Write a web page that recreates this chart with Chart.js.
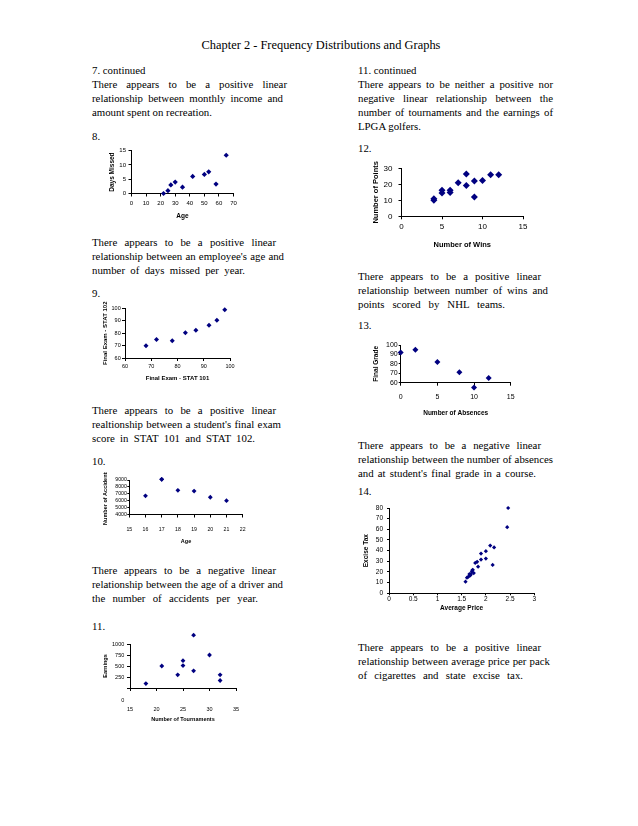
<!DOCTYPE html>
<html>
<head>
<meta charset="utf-8">
<script src="https://cdn.jsdelivr.net/npm/chart.js@4"></script>
<style>
  body { margin: 0; width: 638px; height: 826px; position: relative; overflow: hidden; background: #fff;
         font-family: "Liberation Serif", "Times New Roman", serif; font-size: 10.8px; color: #000; }
  .t { position: absolute; line-height: 14px; white-space: nowrap; }
  .j { text-align: justify; text-align-last: justify; }
  canvas { position: absolute; }
</style>
</head>
<body>
<script>
// 8. employee age vs days missed
const empAge = [22, 25, 27, 30, 35, 42, 50, 53, 58, 65];
const daysMissed = [0, 1, 3, 4, 2.2, 6, 6.7, 7.6, 3.3, 13.4];
// 9. STAT 101 vs STAT 102
const stat101 = [68, 72, 78, 83, 87, 92, 95, 98];
const stat102 = [70, 75, 74, 80.5, 82.5, 86.5, 90.5, 99];
// 10. driver age vs accidents
const driverAge = [16, 17, 18, 19, 20, 21];
const accidents = [6700, 9100, 7500, 7400, 6500, 6000];
// 11. LPGA tournaments vs earnings
const tournaments = [18, 21, 24, 25, 25, 27, 27, 30, 32, 32];
const earnings = [100, 500, 300, 620, 510, 1200, 390, 750, 300, 170];
// 12. NHL wins vs points
const wins = [4, 4, 5, 5, 6, 6, 7, 8, 8, 9, 9, 10, 11, 12];
const points = [10, 11, 14.6, 16.3, 14.8, 16.3, 21, 26.5, 19.2, 22, 12, 22.3, 26, 26];
// 13. absences vs final grade
const absences = [0, 2, 5, 8, 10, 12];
const finalGrade = [92, 95, 82, 71, 55, 65];
// 14. cigarette price vs excise tax
const avgPrice = [2.46, 2.44, 2.09, 2.17, 2.0, 1.9, 2.0, 1.9, 2.14, 1.84, 1.82, 1.78,
                  1.72, 1.75, 1.69, 1.67, 1.64, 1.61, 1.58, 1.71, 1.66, 1.68, 1.73];
const exciseTax = [80, 62, 44.8, 43, 39.5, 37.3, 32.6, 31.6, 26.6, 25, 29.5, 28.5,
                   21.6, 19, 17.9, 16.6, 15.6, 14.7, 10.9, 20.3, 18, 17, 22];

// TEXT  [x, y centre, text, right edge to stretch to]
const lines = [
  [92, 70, '7. continued'],
  [92, 84, 'There appears to be a positive linear', 287],
  [92, 98, 'relationship between monthly income and', 283],
  [92, 112, 'amount spent on recreation.', 208],
  [92, 136, '8.'],
  [92, 242, 'There appears to be a positive linear', 276],
  [92, 256, "relationship between an employee's age and", 284],
  [92, 270, 'number of days missed per year.', 245],
  [92, 293, '9.'],
  [92, 410, 'There appears to be a positive linear', 276],
  [92, 424, "realtionship between a student's final exam", 281],
  [92, 438, 'score in STAT 101 and STAT 102.', 255],
  [92, 461, '10.'],
  [92, 570, 'There appears to be a negative linear', 276],
  [92, 584, 'relationship between the age of a driver and', 283],
  [92, 598, 'the number of accidents per year.', 258],
  [92, 626, '11.'],
  [358, 70, '11. continued'],
  [358, 84, 'There appears to be neither a positive nor', 553],
  [358, 98, 'negative linear relationship between the', 553],
  [358, 112, 'number of tournaments and the earnings of', 553],
  [358, 126, 'LPGA golfers.'],
  [358, 148, '12.'],
  [358, 276, 'There appears to be a positive linear', 541],
  [358, 290, 'relationship between number of wins and', 548],
  [358, 304, 'points scored by NHL teams.', 505],
  [358, 325, '13.'],
  [358, 445, 'There appears to be a negative linear', 541],
  [358, 459, 'relationship between the number of absences', 553],
  [358, 473, "and at student's final grade in a course.", 536],
  [358, 491, '14.'],
  [358, 647, 'There appears to be a positive linear', 541],
  [358, 661, 'relationship between average price per pack', 550],
  [358, 675, 'of cigarettes and state excise tax.', 523]
];
const title = document.createElement('div');
title.className = 't';
title.style.cssText = 'left:0;width:638px;text-align:center;top:38px;font-size:12.4px;padding-left:2px';
title.textContent = 'Chapter 2 - Frequency Distributions and Graphs';
document.body.appendChild(title);

lines.forEach(([x, y, txt, right]) => {
  const d = document.createElement('div');
  d.className = 't';
  d.style.left = x + 'px';
  d.style.top = (y - 7) + 'px';
  d.textContent = txt;
  document.body.appendChild(d);
  if (right && d.offsetWidth < right - x) {
    d.style.width = (right - x) + 'px';
    d.classList.add('j');
  }
});

// CHARTS
const SANS = '"Liberation Sans", Arial, sans-serif';
const NAVY = '#000080';
const BIG = { left: -1e4, top: -1e4, right: 1e4, bottom: 1e4 };

// points past the axis ends are still shown in the reference
const drawOutside = {
  id: 'drawOutside',
  afterDatasetsDraw(ch) {
    const a = ch.chartArea;
    ch.getDatasetMeta(0).data.forEach(p => {
      if (p.x < a.left || p.x > a.right || p.y < a.top || p.y > a.bottom) p.draw(ch.ctx, BIG);
    });
  }
};

function axis(o, thick) {
  return {
    type: 'linear', min: o.min, max: o.max,
    afterBuildTicks: s => { s.ticks = o.ticks.map(v => ({ value: v })); },
    ticks: {
      color: '#000', padding: o.pad, autoSkip: false, maxRotation: 0,
      font: { family: SANS, size: o.fs },
      callback: o.cb || (v => v)
    },
    grid: { drawOnChartArea: false, drawTicks: true, tickLength: o.tl ?? 3, color: '#000' },
    border: { color: '#000', width: 1 },
    title: { display: true, text: o.title, color: '#000', padding: 0,
             font: { family: SANS, size: o.tfs, weight: 'bold' } },
    afterFit: s => {
      if (s.isHorizontal()) { s.height = thick; s.paddingLeft = 0; s.paddingRight = 0; }
      else { s.width = thick; s.paddingTop = 0; s.paddingBottom = 0; }
    }
  };
}

function scatter(o) {
  const [L, T, R, B] = o.plot;
  const cl = Math.round(o.left), ct = Math.round(T - (o.padTop || 8));
  const w = Math.round(R + (o.padRight || 10) - cl), h = Math.round(o.bottom - ct);
  const c = document.createElement('canvas');
  c.width = w; c.height = h;
  c.style.left = cl + 'px'; c.style.top = ct + 'px';
  document.body.appendChild(c);
  return new Chart(c, {
    type: 'scatter',
    data: {
      datasets: [{
        data: o.xs.map((x, i) => ({ x, y: o.ys[i] })),
        pointStyle: 'rectRot', pointRadius: o.r, backgroundColor: NAVY, borderColor: NAVY,
        borderWidth: 0, clip: false
      }]
    },
    options: {
      responsive: false, animation: false, devicePixelRatio: 1,
      layout: { padding: { top: T - ct, right: w - (R - cl), left: 0, bottom: 0 } },
      plugins: { legend: { display: false }, tooltip: { enabled: false } },
      scales: { x: axis(o.x, h - (B - ct)), y: axis(o.y, L - cl) }
    },
    plugins: [drawOutside].concat(o.extra ? [o.extra] : [])
  });
}

// 8
scatter({
  plot: [131.5, 150.7, 233.5, 193.5], left: 108, bottom: 220, xs: empAge, ys: daysMissed, r: 2.6,
  x: { min: 0, max: 70, ticks: [0, 10, 20, 30, 40, 50, 60, 70], fs: 6, pad: 3, title: 'Age', tfs: 6.5 },
  y: { min: 0, max: 15, ticks: [0, 5, 10, 15], fs: 6, pad: 2.5, title: 'Days Missed', tfs: 6.5 }
});
// 9
scatter({
  plot: [125, 308.5, 230, 358], left: 101.5, bottom: 381.5, xs: stat101, ys: stat102, r: 2.5,
  x: { min: 60, max: 100, ticks: [60, 70, 80, 90, 100], fs: 5.5, pad: 1.7, title: 'Final Exam - STAT 101', tfs: 6 },
  y: { min: 60, max: 100, ticks: [60, 70, 80, 90, 100], fs: 5.5, pad: 1.3, title: 'Final Exam - STAT 102', tfs: 6 }
});
// 10
scatter({
  plot: [129.3, 480, 242.7, 514.5], left: 102, bottom: 544.5, xs: driverAge, ys: accidents, r: 2.4,
  x: { min: 15, max: 22, ticks: [15, 16, 17, 18, 19, 20, 21, 22], fs: 5.2, pad: 9, title: 'Age', tfs: 5.5 },
  y: { min: 4000, max: 9000, ticks: [4000, 5000, 6000, 7000, 8000, 9000], fs: 5.2, pad: 0.5, tl: 2, title: 'Number of Accidents', tfs: 5.5 }
});
// 11
scatter({
  plot: [130, 644, 236, 688], left: 101.7, bottom: 722.6, padTop: 14, xs: tournaments, ys: earnings, r: 2.4,
  x: { min: 15, max: 35, ticks: [15, 20, 25, 30, 35], fs: 5.5, pad: 15, title: 'Number of Tournaments', tfs: 5.5 },
  y: { min: 0, max: 1000, ticks: [0, 250, 500, 750, 1000], fs: 5.5, pad: 2.7, title: 'Earnings', tfs: 5.5,
       cb: v => (v === 0 ? '' : v) },
  extra: {
    id: 'zeroLabel',
    afterDraw(ch) {
      const s = ch.scales.y, ctx = ch.ctx;
      ctx.save();
      ctx.font = '5.5px ' + SANS;
      ctx.fillStyle = '#000';
      ctx.textAlign = 'right';
      ctx.textBaseline = 'middle';
      ctx.fillText('0', s.right - 3 - 2.7, s.getPixelForValue(0) + 12);
      ctx.restore();
    }
  }
});
// 12
scatter({
  plot: [401.5, 168.3, 523, 216.3], left: 370.5, bottom: 249, xs: wins, ys: points, r: 3.5,
  x: { min: 0, max: 15, ticks: [0, 5, 10, 15], fs: 8, pad: 2.6, title: 'Number of Wins', tfs: 7.5 },
  y: { min: 0, max: 30, ticks: [0, 10, 20, 30], fs: 8, pad: 6, title: 'Number of Points', tfs: 7.5 }
});
// 13
scatter({
  plot: [400.7, 345, 510.7, 382.7], left: 372, bottom: 417, xs: absences, ys: finalGrade, r: 3,
  x: { min: 0, max: 15, ticks: [0, 5, 10, 15], fs: 7, pad: 6.8, title: 'Number of Absences', tfs: 6.5 },
  y: { min: 60, max: 100, ticks: [60, 70, 80, 90, 100], fs: 7, pad: 1, tl: 2, title: 'Final Grade', tfs: 6.5 }
});
// 14
scatter({
  plot: [389, 508, 534.3, 593.3], left: 362, bottom: 612, xs: avgPrice, ys: exciseTax, r: 2.1,
  x: { min: 0, max: 3, ticks: [0, 0.5, 1, 1.5, 2, 2.5, 3], fs: 6.5, pad: 0, tl: 2, title: 'Average Price', tfs: 6.5 },
  y: { min: 0, max: 80, ticks: [0, 10, 20, 30, 40, 50, 60, 70, 80], fs: 6.5, pad: 4, tl: 2, title: 'Excise Tax', tfs: 6.5 }
});
</script>
</body>
</html>
